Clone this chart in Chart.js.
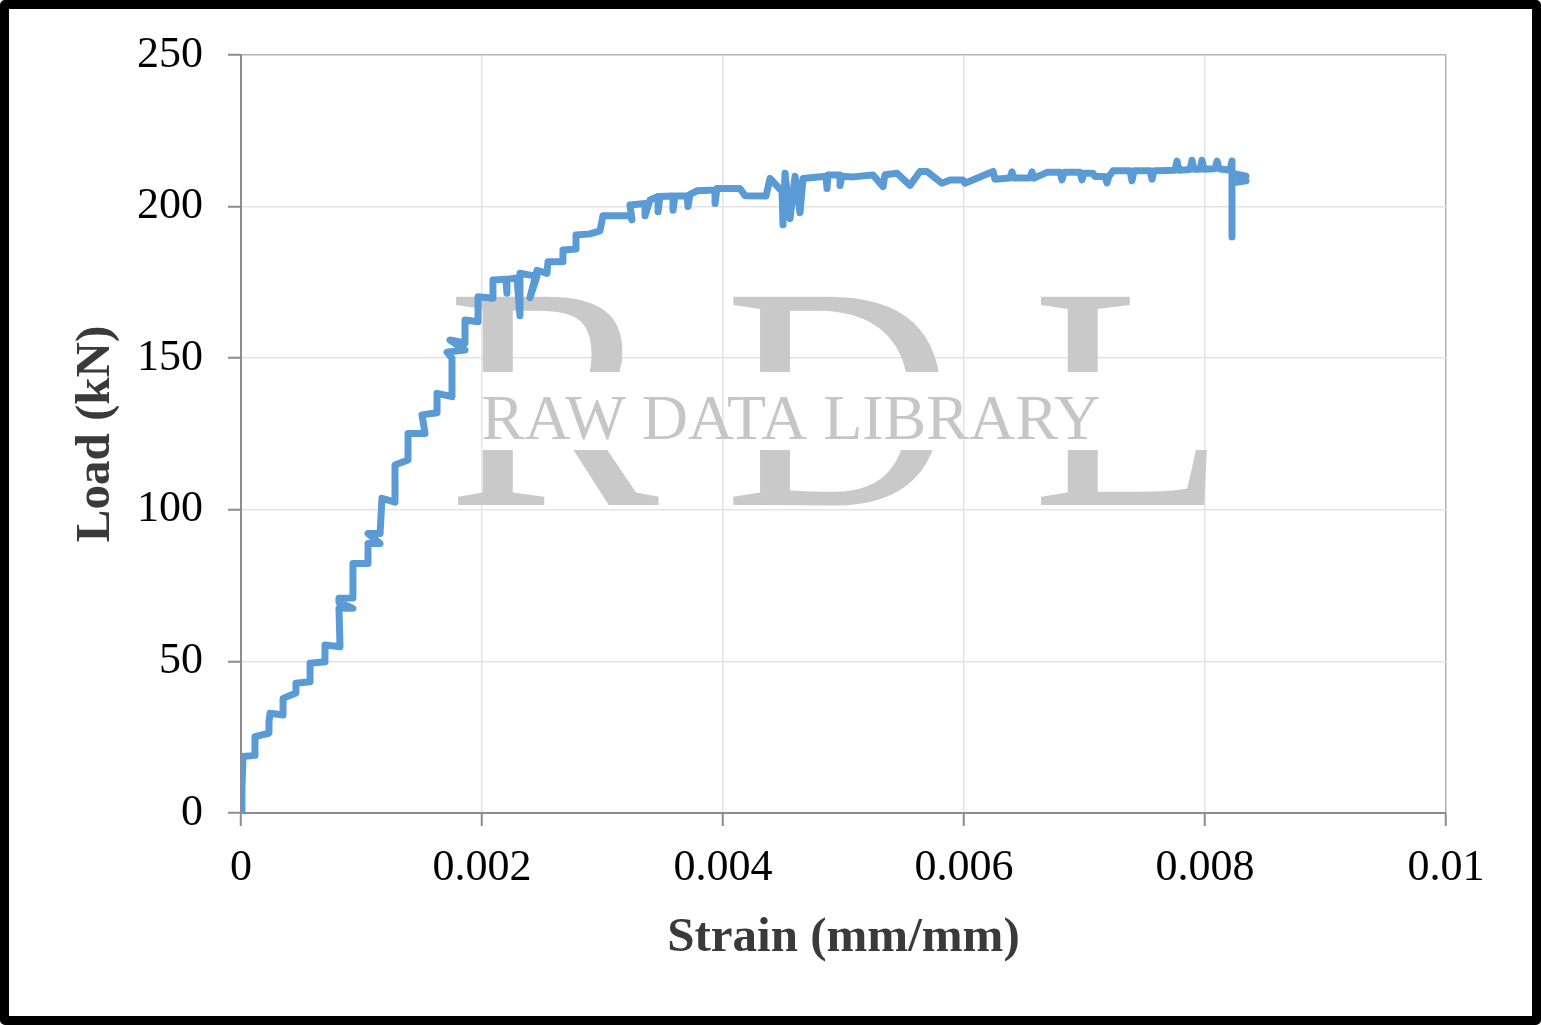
<!DOCTYPE html>
<html>
<head>
<meta charset="utf-8">
<script src="https://cdn.jsdelivr.net/npm/chart.js@4.4.1/dist/chart.umd.min.js"></script>
<style>
  html, body { margin: 0; padding: 0; background: #fff; }
  #frame {
    width: 1541px; height: 1025px; box-sizing: border-box;
    border: 9px solid #000; border-radius: 5px; background: #fff;
  }
  #chart { display: block; }
</style>
</head>
<body>
<div id="frame"><canvas id="chart" width="1523" height="1007"></canvas></div>
<script>
// strain (mm/mm) and load (kN)
const strain = [
  0, 0.008e-3, 0.008e-3, 0.017e-3, 0.116e-3, 0.116e-3, 0.232e-3, 0.232e-3, 0.241e-3, 0.349e-3,
  0.349e-3, 0.456e-3, 0.456e-3, 0.573e-3, 0.573e-3, 0.697e-3, 0.697e-3, 0.822e-3, 0.813e-3, 0.929e-3,
  0.813e-3, 0.813e-3, 0.929e-3, 0.929e-3, 1.054e-3, 1.054e-3, 1.154e-3, 1.054e-3, 1.154e-3, 1.170e-3,
  1.278e-3, 1.278e-3, 1.386e-3, 1.386e-3, 1.527e-3, 1.502e-3, 1.627e-3, 1.627e-3, 1.751e-3, 1.751e-3,
  1.710e-3, 1.859e-3, 1.734e-3, 1.859e-3, 1.859e-3, 1.967e-3, 1.967e-3, 2.091e-3, 2.091e-3, 2.199e-3,
  2.207e-3, 2.207e-3, 2.290e-3, 2.315e-3, 2.315e-3, 2.456e-3, 2.398e-3, 2.456e-3, 2.539e-3, 2.548e-3,
  2.672e-3, 2.672e-3, 2.780e-3, 2.780e-3, 2.896e-3, 2.979e-3, 3.004e-3, 3.228e-3, 3.245e-3, 3.228e-3,
  3.353e-3, 3.353e-3, 3.394e-3, 3.461e-3, 3.461e-3, 3.477e-3, 3.585e-3, 3.585e-3, 3.602e-3, 3.701e-3,
  3.710e-3, 3.726e-3, 3.784e-3, 3.934e-3, 3.934e-3, 3.950e-3, 4.141e-3, 4.183e-3, 4.357e-3, 4.390e-3,
  4.490e-3, 4.498e-3, 4.515e-3, 4.556e-3, 4.598e-3, 4.639e-3, 4.664e-3, 4.855e-3, 4.863e-3, 4.871e-3,
  4.971e-3, 4.971e-3, 4.988e-3, 5.079e-3, 5.245e-3, 5.328e-3, 5.344e-3, 5.444e-3, 5.552e-3, 5.635e-3,
  5.693e-3, 5.817e-3, 5.884e-3, 5.992e-3, 6.008e-3, 6.241e-3, 6.257e-3, 6.382e-3, 6.398e-3, 6.415e-3,
  6.548e-3, 6.564e-3, 6.581e-3, 6.689e-3, 6.797e-3, 6.813e-3, 6.830e-3, 6.963e-3, 6.979e-3, 6.996e-3,
  7.071e-3, 7.087e-3, 7.170e-3, 7.187e-3, 7.203e-3, 7.237e-3, 7.378e-3, 7.394e-3, 7.411e-3, 7.544e-3,
  7.560e-3, 7.577e-3, 7.685e-3, 7.751e-3, 7.768e-3, 7.784e-3, 7.876e-3, 7.892e-3, 7.909e-3, 7.959e-3,
  7.975e-3, 7.992e-3, 8.083e-3, 8.100e-3, 8.116e-3, 8.207e-3, 8.224e-3, 8.224e-3, 8.224e-3, 8.340e-3,
  8.257e-3, 8.340e-3
];
const load = [
  0, 2, 8, 18.6, 19, 25.2, 26.3, 30, 32.9, 32.3,
  37.8, 39.6, 42.8, 43.3, 49.4, 49.9, 55.4, 54.8, 67.5, 67.5,
  69.5, 70.8, 70.9, 82.3, 82.3, 88.9, 88.9, 92.2, 92.2, 103.8,
  102.5, 114.8, 116.4, 125.2, 125.2, 131.3, 132, 138.4, 137.3, 150,
  152, 152.7, 156, 155, 162.6, 162, 170.3, 169.8, 175.8, 176,
  171.4, 176, 176.5, 164, 178, 177, 170, 179, 178, 181.8,
  181.8, 185.7, 186, 190.6, 191, 192, 197, 197, 195.6, 200.5,
  201, 197, 202.2, 203.3, 198.3, 203.3, 203.5, 198.8, 203.5, 203.5,
  200, 204, 205.2, 205.5, 201, 206, 206, 203.6, 203.5, 209.3,
  205, 194, 211, 196, 210, 198, 209.3, 210, 206, 210.4,
  210.4, 207, 210, 209.8, 210.4, 206.6, 210.5, 211, 207, 211.6,
  211.6, 207.7, 208.8, 208.8, 207.7, 211.6, 209, 209.4, 211.5, 209.4,
  209.4, 211.5, 209.4, 211.3, 211.3, 208.8, 211.3, 211.3, 208.8, 211,
  211, 209.9, 209.9, 207.8, 210, 211.8, 211.8, 208.5, 211.8, 211.8,
  209, 211.8, 211.9, 212, 215, 212, 212.2, 215.3, 212.3, 212.3,
  215.3, 212.3, 212.5, 215, 212.5, 212, 215, 190, 211, 210,
  208, 208.5
];
const xTickValues = [0, 0.002, 0.004, 0.006, 0.008, 0.01];
const xTickLabels = ['0', '0.002', '0.004', '0.006', '0.008', '0.01'];
const yTickValues = [0, 50, 100, 150, 200, 250];
const yTickLabels = ['0', '50', '100', '150', '200', '250'];

const points = strain.map((s, i) => ({ x: s, y: load[i] }));

// grey "RDL / RAW DATA LIBRARY" watermark behind the curve
const watermark = {
  id: 'watermark',
  beforeDatasetsDraw(chart) {
    const ctx = chart.ctx;
    ctx.save();
    // big letters are cut where the small line of text runs across them
    ctx.beginPath();
    ctx.rect(0, 0, chart.width, 363);
    ctx.rect(0, 441, chart.width, chart.height - 441);
    ctx.clip();
    ctx.fillStyle = '#c9c9c9';
    ctx.textAlign = 'center';
    ctx.textBaseline = 'alphabetic';
    ctx.font = '318px "Liberation Serif"';
    ctx.fillText('R', 544, 496);
    ctx.fillText('D', 830, 496);
    ctx.fillText('L', 1120, 496);
    ctx.restore();
    ctx.save();
    ctx.fillStyle = '#c6c6c6';
    ctx.textAlign = 'center';
    ctx.font = '64px "Liberation Serif"';
    ctx.fillText('RAW DATA LIBRARY', 782, 430);
    ctx.restore();
  }
};

new Chart(document.getElementById('chart'), {
  type: 'scatter',
  data: {
    datasets: [{
      data: points,
      showLine: true,
      borderColor: '#5b9bd5',
      backgroundColor: '#5b9bd5',
      borderWidth: 7,
      pointRadius: 0,
      borderJoinStyle: 'round',
      borderCapStyle: 'round',
      tension: 0
    }]
  },
  options: {
    responsive: false,
    animation: false,
    layout: { padding: { left: 0, top: 46, right: 86, bottom: 0 } },
    plugins: { legend: { display: false }, tooltip: { enabled: false } },
    scales: {
      x: {
        type: 'linear',
        min: 0, max: 0.01,
        afterFit(scale) { scale.height = 203; },
        afterBuildTicks(scale) { scale.ticks = xTickValues.map(v => ({ value: v })); },
        ticks: {
          callback: (v, i) => xTickLabels[i],
          font: { family: 'Liberation Serif', size: 44 },
          color: '#000',
          padding: 16,
          maxRotation: 0
        },
        grid: {
          color: ctx => (ctx.tick && ctx.tick.value === 0.01) ? '#b3b3b3' : '#e3e3e3',
          lineWidth: 1.5,
          tickLength: 13,
          tickColor: '#8c8c8c',
          tickWidth: 2
        },
        border: { color: '#8c8c8c', width: 2 },
        title: {
          display: true,
          text: 'Strain (mm/mm)',
          color: '#3a3a3a',
          font: { family: 'Liberation Serif', size: 49, weight: 'bold', lineHeight: 1 },
          padding: { top: 0, bottom: 53 }
        }
      },
      y: {
        type: 'linear',
        min: 0, max: 250,
        afterFit(scale) {
          scale.width = 232;
          scale.paddingTop = 0;
          scale.paddingBottom = 0;
        },
        afterBuildTicks(scale) { scale.ticks = yTickValues.map(v => ({ value: v })); },
        ticks: {
          callback: (v, i) => yTickLabels[i],
          font: { family: 'Liberation Serif', size: 44 },
          color: '#000',
          padding: 25
        },
        grid: {
          color: ctx => (ctx.tick && ctx.tick.value === 250) ? '#b3b3b3' : '#e3e3e3',
          lineWidth: 1.5,
          tickLength: 13,
          tickColor: '#8c8c8c',
          tickWidth: 2
        },
        border: { color: '#8c8c8c', width: 2 },
        title: {
          display: true,
          text: 'Load (kN)',
          color: '#3a3a3a',
          font: { family: 'Liberation Serif', size: 49, weight: 'bold', lineHeight: 1 },
          padding: { top: 63, bottom: 0 }
        }
      }
    }
  },
  plugins: [watermark]
});
</script>
</body>
</html>
